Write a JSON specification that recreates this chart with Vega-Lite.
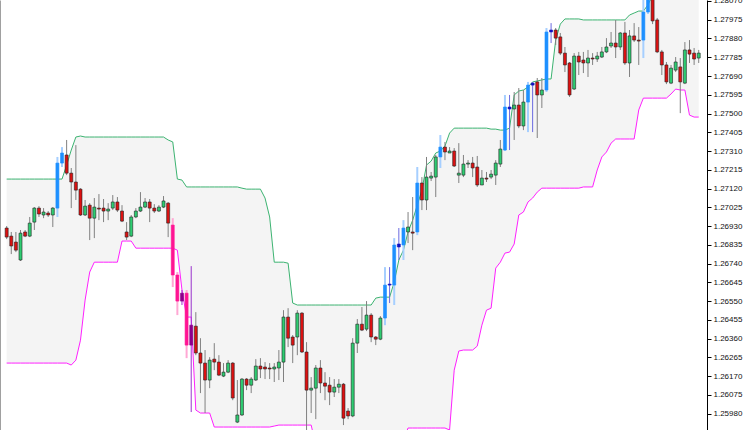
{
"$schema":"https://vega.github.io/schema/vega-lite/v6.json",
"width":707,"height":430,
"padding":{"left":0,"top":0,"right":43,"bottom":0},
"autosize":{"type":"none"},
"background":"white",
"config":{"view":{"stroke":null},"axis":{"labelFont":"Liberation Sans","labelFontSize":8,"labelColor":"#111"}},
"data":{"values":[
{"i":0,"cat":"bear","open":1.26920,"high":1.26930,"low":1.26864,"close":1.26874,"upper":1.27168,"lower":1.26236},
{"i":1,"cat":"bear","open":1.26879,"high":1.26900,"low":1.26788,"close":1.26829,"upper":1.27168,"lower":1.26236},
{"i":2,"cat":"bear","open":1.26849,"high":1.26900,"low":1.26798,"close":1.26808,"upper":1.27168,"lower":1.26236},
{"i":3,"cat":"bull","open":1.26758,"high":1.26910,"low":1.26753,"close":1.26894,"upper":1.27168,"lower":1.26236},
{"i":4,"cat":"bear","open":1.26900,"high":1.26910,"low":1.26874,"close":1.26879,"upper":1.27168,"lower":1.26236},
{"i":5,"cat":"bull","open":1.26879,"high":1.26976,"low":1.26874,"close":1.26945,"upper":1.27168,"lower":1.26236},
{"i":6,"cat":"bull","open":1.26950,"high":1.27026,"low":1.26910,"close":1.27021,"upper":1.27168,"lower":1.26236},
{"i":7,"cat":"bear","open":1.27021,"high":1.27031,"low":1.26976,"close":1.26991,"upper":1.27168,"lower":1.26236},
{"i":8,"cat":"bull","open":1.26986,"high":1.27021,"low":1.26970,"close":1.27001,"upper":1.27168,"lower":1.26236},
{"i":9,"cat":"bear","open":1.26996,"high":1.27006,"low":1.26976,"close":1.26986,"upper":1.27168,"lower":1.26236},
{"i":10,"cat":"bull","open":1.26986,"high":1.27026,"low":1.26925,"close":1.27021,"upper":1.27168,"lower":1.26236},
{"i":11,"cat":"upx","open":1.27021,"high":1.27280,"low":1.26976,"close":1.27249,"upper":1.27168,"lower":1.26236},
{"i":12,"cat":"upx","open":1.27249,"high":1.27330,"low":1.27229,"close":1.27300,"upper":1.27168,"lower":1.26236},
{"i":13,"cat":"bear","open":1.27290,"high":1.27366,"low":1.27188,"close":1.27198,"upper":1.27239,"lower":1.26236},
{"i":14,"cat":"bear","open":1.27198,"high":1.27224,"low":1.27021,"close":1.27153,"upper":1.27315,"lower":1.26226},
{"i":15,"cat":"bear","open":1.27153,"high":1.27340,"low":1.27062,"close":1.27112,"upper":1.27381,"lower":1.26251},
{"i":16,"cat":"bear","open":1.27117,"high":1.27122,"low":1.26981,"close":1.26986,"upper":1.27386,"lower":1.26352},
{"i":17,"cat":"bull","open":1.26986,"high":1.27062,"low":1.26981,"close":1.27031,"upper":1.27381,"lower":1.26555},
{"i":18,"cat":"bear","open":1.27036,"high":1.27046,"low":1.26859,"close":1.26970,"upper":1.27381,"lower":1.26697},
{"i":19,"cat":"bull","open":1.26970,"high":1.27072,"low":1.26869,"close":1.27026,"upper":1.27381,"lower":1.26747},
{"i":20,"cat":"bear","open":1.27021,"high":1.27092,"low":1.26960,"close":1.27016,"upper":1.27381,"lower":1.26747},
{"i":21,"cat":"bear","open":1.27021,"high":1.27067,"low":1.26950,"close":1.27006,"upper":1.27381,"lower":1.26747},
{"i":22,"cat":"bull","open":1.27006,"high":1.27046,"low":1.26960,"close":1.27016,"upper":1.27381,"lower":1.26747},
{"i":23,"cat":"bull","open":1.27021,"high":1.27087,"low":1.27011,"close":1.27052,"upper":1.27381,"lower":1.26747},
{"i":24,"cat":"bear","open":1.27052,"high":1.27077,"low":1.27001,"close":1.27011,"upper":1.27381,"lower":1.26747},
{"i":25,"cat":"bear","open":1.27006,"high":1.27036,"low":1.26950,"close":1.26955,"upper":1.27381,"lower":1.26854},
{"i":26,"cat":"bear","open":1.26900,"high":1.26950,"low":1.26859,"close":1.26874,"upper":1.27381,"lower":1.26854},
{"i":27,"cat":"bull","open":1.26879,"high":1.26986,"low":1.26874,"close":1.26976,"upper":1.27381,"lower":1.26854},
{"i":28,"cat":"bull","open":1.26976,"high":1.27021,"low":1.26970,"close":1.27006,"upper":1.27381,"lower":1.26818},
{"i":29,"cat":"bull","open":1.27006,"high":1.27102,"low":1.27001,"close":1.27026,"upper":1.27381,"lower":1.26818},
{"i":30,"cat":"bull","open":1.27026,"high":1.27072,"low":1.27021,"close":1.27052,"upper":1.27381,"lower":1.26818},
{"i":31,"cat":"bear","open":1.27052,"high":1.27067,"low":1.26950,"close":1.27021,"upper":1.27381,"lower":1.26818},
{"i":32,"cat":"bear","open":1.27021,"high":1.27041,"low":1.26996,"close":1.27006,"upper":1.27381,"lower":1.26818},
{"i":33,"cat":"bull","open":1.27006,"high":1.27036,"low":1.27001,"close":1.27026,"upper":1.27381,"lower":1.26818},
{"i":34,"cat":"bull","open":1.27026,"high":1.27082,"low":1.27021,"close":1.27057,"upper":1.27381,"lower":1.26818},
{"i":35,"cat":"bear","open":1.27046,"high":1.27052,"low":1.26874,"close":1.26945,"upper":1.27366,"lower":1.26818},
{"i":36,"cat":"dnx","open":1.26935,"high":1.26970,"low":1.26621,"close":1.26682,"upper":1.27356,"lower":1.26818},
{"i":37,"cat":"dnx","open":1.26682,"high":1.26697,"low":1.26479,"close":1.26550,"upper":1.27168,"lower":1.26808},
{"i":38,"cat":"pur","open":1.26590,"high":1.26606,"low":1.26530,"close":1.26550,"upper":1.27163,"lower":1.26606},
{"i":39,"cat":"dnx","open":1.26590,"high":1.26606,"low":1.26261,"close":1.26327,"upper":1.27128,"lower":1.26469},
{"i":40,"cat":"pur","open":1.26428,"high":1.26727,"low":1.25988,"close":1.26327,"upper":1.27128,"lower":1.26469},
{"i":41,"cat":"bear","open":1.26423,"high":1.26494,"low":1.26276,"close":1.26287,"upper":1.27128,"lower":1.25998},
{"i":42,"cat":"bear","open":1.26287,"high":1.26362,"low":1.26084,"close":1.26236,"upper":1.27128,"lower":1.25983},
{"i":43,"cat":"bear","open":1.26236,"high":1.26302,"low":1.25983,"close":1.26150,"upper":1.27128,"lower":1.25983},
{"i":44,"cat":"bull","open":1.26150,"high":1.26266,"low":1.26109,"close":1.26251,"upper":1.27128,"lower":1.25983},
{"i":45,"cat":"bear","open":1.26256,"high":1.26337,"low":1.26200,"close":1.26241,"upper":1.27128,"lower":1.25912},
{"i":46,"cat":"bear","open":1.26241,"high":1.26276,"low":1.26170,"close":1.26175,"upper":1.27128,"lower":1.25912},
{"i":47,"cat":"bull","open":1.26170,"high":1.26236,"low":1.26165,"close":1.26190,"upper":1.27128,"lower":1.25912},
{"i":48,"cat":"bull","open":1.26190,"high":1.26251,"low":1.26185,"close":1.26236,"upper":1.27128,"lower":1.25912},
{"i":49,"cat":"bear","open":1.26236,"high":1.26241,"low":1.26048,"close":1.26059,"upper":1.27128,"lower":1.25912},
{"i":50,"cat":"bull","open":1.25937,"high":1.26150,"low":1.25932,"close":1.25973,"upper":1.27128,"lower":1.25912},
{"i":51,"cat":"bull","open":1.25973,"high":1.26160,"low":1.25968,"close":1.26155,"upper":1.27122,"lower":1.25912},
{"i":52,"cat":"bear","open":1.26155,"high":1.26160,"low":1.26099,"close":1.26124,"upper":1.27117,"lower":1.25912},
{"i":53,"cat":"bull","open":1.26124,"high":1.26165,"low":1.26084,"close":1.26155,"upper":1.27117,"lower":1.25912},
{"i":54,"cat":"bull","open":1.26150,"high":1.26256,"low":1.26145,"close":1.26221,"upper":1.27117,"lower":1.25912},
{"i":55,"cat":"bear","open":1.26221,"high":1.26261,"low":1.26160,"close":1.26206,"upper":1.27117,"lower":1.25912},
{"i":56,"cat":"bear","open":1.26216,"high":1.26241,"low":1.26155,"close":1.26206,"upper":1.27072,"lower":1.25912},
{"i":57,"cat":"bear","open":1.26211,"high":1.26236,"low":1.26155,"close":1.26206,"upper":1.26976,"lower":1.25912},
{"i":58,"cat":"bull","open":1.26206,"high":1.26236,"low":1.26140,"close":1.26216,"upper":1.26747,"lower":1.25917},
{"i":59,"cat":"bull","open":1.26211,"high":1.26302,"low":1.26150,"close":1.26241,"upper":1.26747,"lower":1.25922},
{"i":60,"cat":"bull","open":1.26241,"high":1.26504,"low":1.26140,"close":1.26469,"upper":1.26747,"lower":1.25922},
{"i":61,"cat":"bear","open":1.26469,"high":1.26514,"low":1.26317,"close":1.26362,"upper":1.26742,"lower":1.25922},
{"i":62,"cat":"bear","open":1.26368,"high":1.26378,"low":1.26236,"close":1.26327,"upper":1.26540,"lower":1.25922},
{"i":63,"cat":"bull","open":1.26368,"high":1.26504,"low":1.26276,"close":1.26489,"upper":1.26530,"lower":1.25922},
{"i":64,"cat":"bear","open":1.26489,"high":1.26494,"low":1.26287,"close":1.26292,"upper":1.26530,"lower":1.25922},
{"i":65,"cat":"bear","open":1.26292,"high":1.26342,"low":1.25897,"close":1.26099,"upper":1.26530,"lower":1.25922},
{"i":66,"cat":"bull","open":1.26099,"high":1.26165,"low":1.25983,"close":1.26109,"upper":1.26530,"lower":1.25922},
{"i":67,"cat":"bull","open":1.26109,"high":1.26226,"low":1.25952,"close":1.26211,"upper":1.26530,"lower":1.25820},
{"i":68,"cat":"bear","open":1.26211,"high":1.26251,"low":1.26084,"close":1.26135,"upper":1.26530,"lower":1.25820},
{"i":69,"cat":"bear","open":1.26135,"high":1.26190,"low":1.26048,"close":1.26119,"upper":1.26530,"lower":1.25820},
{"i":70,"cat":"bear","open":1.26124,"high":1.26165,"low":1.26023,"close":1.26089,"upper":1.26530,"lower":1.25820},
{"i":71,"cat":"bull","open":1.26089,"high":1.26155,"low":1.26064,"close":1.26114,"upper":1.26530,"lower":1.25820},
{"i":72,"cat":"bull","open":1.26114,"high":1.26155,"low":1.26084,"close":1.26129,"upper":1.26530,"lower":1.25820},
{"i":73,"cat":"bear","open":1.26129,"high":1.26135,"low":1.25922,"close":1.25957,"upper":1.26530,"lower":1.25820},
{"i":74,"cat":"bear","open":1.25993,"high":1.26008,"low":1.25952,"close":1.25968,"upper":1.26530,"lower":1.25820},
{"i":75,"cat":"bull","open":1.25968,"high":1.26362,"low":1.25962,"close":1.26337,"upper":1.26530,"lower":1.25820},
{"i":76,"cat":"bull","open":1.26337,"high":1.26459,"low":1.26287,"close":1.26433,"upper":1.26530,"lower":1.25820},
{"i":77,"cat":"bear","open":1.26433,"high":1.26520,"low":1.26398,"close":1.26403,"upper":1.26530,"lower":1.25820},
{"i":78,"cat":"bull","open":1.26408,"high":1.26550,"low":1.26398,"close":1.26479,"upper":1.26530,"lower":1.25820},
{"i":79,"cat":"bear","open":1.26479,"high":1.26489,"low":1.26342,"close":1.26368,"upper":1.26530,"lower":1.25820},
{"i":80,"cat":"bear","open":1.26368,"high":1.26373,"low":1.26327,"close":1.26357,"upper":1.26565,"lower":1.25820},
{"i":81,"cat":"bull","open":1.26357,"high":1.26474,"low":1.26352,"close":1.26464,"upper":1.26570,"lower":1.25820},
{"i":82,"cat":"upx","open":1.26464,"high":1.26722,"low":1.26428,"close":1.26631,"upper":1.26570,"lower":1.25820},
{"i":83,"cat":"nav","open":1.26631,"high":1.26722,"low":1.26540,"close":1.26636,"upper":1.26570,"lower":1.25820},
{"i":84,"cat":"upx","open":1.26631,"high":1.26869,"low":1.26530,"close":1.26834,"upper":1.26646,"lower":1.25820},
{"i":85,"cat":"nav","open":1.26824,"high":1.26920,"low":1.26758,"close":1.26839,"upper":1.26758,"lower":1.25820},
{"i":86,"cat":"upx","open":1.26834,"high":1.26960,"low":1.26758,"close":1.26920,"upper":1.26808,"lower":1.25846},
{"i":87,"cat":"bull","open":1.26900,"high":1.27001,"low":1.26844,"close":1.26925,"upper":1.26900,"lower":1.25907},
{"i":88,"cat":"bear","open":1.26900,"high":1.27077,"low":1.26808,"close":1.26894,"upper":1.26960,"lower":1.25907},
{"i":89,"cat":"upx","open":1.26900,"high":1.27229,"low":1.26884,"close":1.27148,"upper":1.27036,"lower":1.25907},
{"i":90,"cat":"bear","open":1.27148,"high":1.27178,"low":1.27011,"close":1.27062,"upper":1.27112,"lower":1.25907},
{"i":91,"cat":"bull","open":1.27062,"high":1.27280,"low":1.27011,"close":1.27178,"upper":1.27239,"lower":1.25907},
{"i":92,"cat":"bull","open":1.27173,"high":1.27204,"low":1.27158,"close":1.27183,"upper":1.27259,"lower":1.25907},
{"i":93,"cat":"bull","open":1.27178,"high":1.27290,"low":1.27077,"close":1.27280,"upper":1.27300,"lower":1.25907},
{"i":94,"cat":"upx","open":1.27280,"high":1.27391,"low":1.27224,"close":1.27330,"upper":1.27310,"lower":1.25907},
{"i":95,"cat":"bear","open":1.27330,"high":1.27356,"low":1.27264,"close":1.27305,"upper":1.27335,"lower":1.25907},
{"i":96,"cat":"bull","open":1.27300,"high":1.27330,"low":1.27300,"close":1.27310,"upper":1.27401,"lower":1.25897},
{"i":97,"cat":"bear","open":1.27310,"high":1.27325,"low":1.27229,"close":1.27234,"upper":1.27426,"lower":1.26200},
{"i":98,"cat":"bull","open":1.27188,"high":1.27350,"low":1.27148,"close":1.27198,"upper":1.27426,"lower":1.26297},
{"i":99,"cat":"bull","open":1.27188,"high":1.27290,"low":1.27178,"close":1.27244,"upper":1.27426,"lower":1.26302},
{"i":100,"cat":"bull","open":1.27244,"high":1.27264,"low":1.27224,"close":1.27249,"upper":1.27426,"lower":1.26302},
{"i":101,"cat":"bear","open":1.27249,"high":1.27280,"low":1.27178,"close":1.27224,"upper":1.27426,"lower":1.26302},
{"i":102,"cat":"bear","open":1.27229,"high":1.27285,"low":1.27128,"close":1.27138,"upper":1.27426,"lower":1.26322},
{"i":103,"cat":"bull","open":1.27138,"high":1.27214,"low":1.27138,"close":1.27173,"upper":1.27426,"lower":1.26428},
{"i":104,"cat":"bear","open":1.27173,"high":1.27204,"low":1.27153,"close":1.27168,"upper":1.27426,"lower":1.26504},
{"i":105,"cat":"bull","open":1.27178,"high":1.27214,"low":1.27168,"close":1.27193,"upper":1.27421,"lower":1.26514},
{"i":106,"cat":"bull","open":1.27188,"high":1.27264,"low":1.27138,"close":1.27249,"upper":1.27421,"lower":1.26717},
{"i":107,"cat":"bull","open":1.27244,"high":1.27366,"low":1.27229,"close":1.27320,"upper":1.27416,"lower":1.26747},
{"i":108,"cat":"upx","open":1.27315,"high":1.27594,"low":1.27310,"close":1.27533,"upper":1.27416,"lower":1.26793},
{"i":109,"cat":"nav","open":1.27523,"high":1.27594,"low":1.27315,"close":1.27533,"upper":1.27426,"lower":1.26798},
{"i":110,"cat":"bull","open":1.27523,"high":1.27609,"low":1.27366,"close":1.27543,"upper":1.27594,"lower":1.26839},
{"i":111,"cat":"bear","open":1.27543,"high":1.27629,"low":1.27426,"close":1.27437,"upper":1.27614,"lower":1.26986},
{"i":112,"cat":"bull","open":1.27437,"high":1.27619,"low":1.27416,"close":1.27558,"upper":1.27619,"lower":1.27001},
{"i":113,"cat":"upx","open":1.27558,"high":1.27660,"low":1.27406,"close":1.27644,"upper":1.27634,"lower":1.27052},
{"i":114,"cat":"nav","open":1.27644,"high":1.27660,"low":1.27406,"close":1.27654,"upper":1.27660,"lower":1.27072},
{"i":115,"cat":"bear","open":1.27660,"high":1.27680,"low":1.27376,"close":1.27594,"upper":1.27665,"lower":1.27102},
{"i":116,"cat":"bull","open":1.27594,"high":1.27680,"low":1.27528,"close":1.27619,"upper":1.27670,"lower":1.27122},
{"i":117,"cat":"upx","open":1.27619,"high":1.27933,"low":1.27609,"close":1.27913,"upper":1.27675,"lower":1.27122},
{"i":118,"cat":"nav","open":1.27913,"high":1.27958,"low":1.27857,"close":1.27923,"upper":1.27675,"lower":1.27122},
{"i":119,"cat":"bear","open":1.27923,"high":1.27933,"low":1.27847,"close":1.27882,"upper":1.27872,"lower":1.27122},
{"i":120,"cat":"bear","open":1.27888,"high":1.27908,"low":1.27796,"close":1.27806,"upper":1.27953,"lower":1.27122},
{"i":121,"cat":"bear","open":1.27806,"high":1.27837,"low":1.27710,"close":1.27746,"upper":1.27979,"lower":1.27122},
{"i":122,"cat":"bear","open":1.27756,"high":1.27761,"low":1.27584,"close":1.27594,"upper":1.27979,"lower":1.27122},
{"i":123,"cat":"bull","open":1.27624,"high":1.27806,"low":1.27619,"close":1.27791,"upper":1.27979,"lower":1.27122},
{"i":124,"cat":"bear","open":1.27791,"high":1.27812,"low":1.27695,"close":1.27761,"upper":1.27979,"lower":1.27122},
{"i":125,"cat":"bear","open":1.27771,"high":1.27812,"low":1.27705,"close":1.27756,"upper":1.27974,"lower":1.27128},
{"i":126,"cat":"bull","open":1.27756,"high":1.27822,"low":1.27685,"close":1.27781,"upper":1.27974,"lower":1.27128},
{"i":127,"cat":"bear","open":1.27781,"high":1.27806,"low":1.27746,"close":1.27776,"upper":1.27974,"lower":1.27128},
{"i":128,"cat":"bull","open":1.27776,"high":1.27812,"low":1.27761,"close":1.27791,"upper":1.27974,"lower":1.27214},
{"i":129,"cat":"bull","open":1.27786,"high":1.27837,"low":1.27781,"close":1.27812,"upper":1.27974,"lower":1.27280},
{"i":130,"cat":"bull","open":1.27812,"high":1.27882,"low":1.27806,"close":1.27837,"upper":1.27974,"lower":1.27305},
{"i":131,"cat":"bull","open":1.27842,"high":1.27913,"low":1.27832,"close":1.27857,"upper":1.27974,"lower":1.27350},
{"i":132,"cat":"bear","open":1.27857,"high":1.27974,"low":1.27781,"close":1.27837,"upper":1.27974,"lower":1.27371},
{"i":133,"cat":"bull","open":1.27837,"high":1.27913,"low":1.27822,"close":1.27908,"upper":1.27974,"lower":1.27371},
{"i":134,"cat":"bear","open":1.27908,"high":1.27964,"low":1.27746,"close":1.27756,"upper":1.27974,"lower":1.27371},
{"i":135,"cat":"bull","open":1.27756,"high":1.27923,"low":1.27685,"close":1.27893,"upper":1.27999,"lower":1.27371},
{"i":136,"cat":"bear","open":1.27893,"high":1.27958,"low":1.27862,"close":1.27872,"upper":1.28009,"lower":1.27371},
{"i":137,"cat":"bear","open":1.27872,"high":1.27938,"low":1.27746,"close":1.27867,"upper":1.28019,"lower":1.27518},
{"i":138,"cat":"upx","open":1.27872,"high":1.28075,"low":1.27781,"close":1.28014,"upper":1.28019,"lower":1.27578},
{"i":139,"cat":"upx","open":1.28014,"high":1.28105,"low":1.28004,"close":1.28090,"upper":1.28050,"lower":1.27578},
{"i":140,"cat":"bear","open":1.28080,"high":1.28100,"low":1.27953,"close":1.27969,"upper":1.28100,"lower":1.27578},
{"i":141,"cat":"bear","open":1.27974,"high":1.27984,"low":1.27806,"close":1.27812,"upper":1.28116,"lower":1.27578},
{"i":142,"cat":"bear","open":1.27812,"high":1.27822,"low":1.27695,"close":1.27746,"upper":1.28116,"lower":1.27578},
{"i":143,"cat":"bear","open":1.27746,"high":1.27761,"low":1.27649,"close":1.27660,"upper":1.28116,"lower":1.27578},
{"i":144,"cat":"bull","open":1.27654,"high":1.27746,"low":1.27649,"close":1.27730,"upper":1.28116,"lower":1.27599},
{"i":145,"cat":"bull","open":1.27720,"high":1.27786,"low":1.27710,"close":1.27761,"upper":1.28116,"lower":1.27624},
{"i":146,"cat":"bear","open":1.27736,"high":1.27781,"low":1.27502,"close":1.27660,"upper":1.28116,"lower":1.27619},
{"i":147,"cat":"bull","open":1.27654,"high":1.27862,"low":1.27649,"close":1.27822,"upper":1.28116,"lower":1.27619},
{"i":148,"cat":"bear","open":1.27822,"high":1.27872,"low":1.27756,"close":1.27801,"upper":1.28116,"lower":1.27492},
{"i":149,"cat":"bear","open":1.27806,"high":1.27832,"low":1.27746,"close":1.27776,"upper":1.28116,"lower":1.27482},
{"i":150,"cat":"bull","open":1.27781,"high":1.27822,"low":1.27756,"close":1.27806,"upper":1.28116,"lower":1.27482}
]},
"encoding":{"x":{"field":"i","type":"quantitative","scale":{"domain":[-0.36,150.71],"nice":false,"zero":false},"axis":null}},
"layer":[
{"mark":{"type":"area","color":"#f4f4f4","clip":true},
 "encoding":{"y":{"field":"lower","type":"quantitative","scale":{"domain":[1.25897,1.28075],"nice":false,"zero":false},"axis":{"orient":"left","labels":false,"ticks":false,"grid":false,"title":null,"domainColor":"#a0a0a0","domainWidth":1}},"y2":{"field":"upper"}}},
{"mark":{"type":"line","color":"#3cb371","strokeWidth":1,"clip":true},
 "encoding":{"y":{"field":"upper","type":"quantitative","axis":null}}},
{"mark":{"type":"line","color":"#ff20ff","strokeWidth":1,"clip":true},
 "encoding":{"y":{"field":"lower","type":"quantitative","axis":null}}},
{"transform":[{"filter":"datum.cat=='upx'||datum.cat=='dnx'"}],
 "mark":{"type":"bar","size":2,"clip":true},
 "encoding":{"y":{"field":"low","type":"quantitative","axis":null},"y2":{"field":"high"},
  "color":{"field":"cat","type":"nominal","scale":{"domain":["upx","dnx"],"range":["#a6cfff","#ffa8d4"]},"legend":null}}},
{"transform":[{"filter":"datum.cat!='upx'&&datum.cat!='dnx'"}],
 "mark":{"type":"rule","strokeWidth":1,"clip":true},
 "encoding":{"y":{"field":"low","type":"quantitative","axis":null},"y2":{"field":"high"},
  "stroke":{"field":"cat","type":"nominal","scale":{"domain":["bull","bear","pur","nav"],"range":["#808080","#808080","#9932cc","#6a6ae0"]},"legend":null}}},
{"mark":{"type":"bar","size":3,"strokeWidth":0.6,"clip":true},
 "encoding":{"y":{"field":"open","type":"quantitative","scale":{"domain":[1.25897,1.28075],"nice":false,"zero":false},
   "axis":{"orient":"right","values":[1.2807,1.27975,1.2788,1.27785,1.2769,1.27595,1.275,1.27405,1.2731,1.27215,1.2712,1.27025,1.2693,1.26835,1.2674,1.26645,1.2655,1.26455,1.2636,1.26265,1.2617,1.26075,1.2598,1.25885],
   "format":".5f","title":null,"grid":false,"domainColor":"#000","tickColor":"#000","tickSize":4,"labelPadding":2,"labelOverlap":false,"labelFlush":false,"labelBound":false}},
  "y2":{"field":"close"},
  "fill":{"field":"cat","type":"nominal","scale":{"domain":["bull","bear","upx","dnx","pur","nav"],"range":["#2ecc71","#dd1111","#1e90ff","#ff1493","#8b008b","#1010c0"]},"legend":null},
  "stroke":{"field":"cat","type":"nominal","scale":{"domain":["bull","bear","upx","dnx","pur","nav"],"range":["#222222","#222222","#1e90ff","#ff1493","#8b008b","#1010c0"]},"legend":null}}}
],
"resolve":{"scale":{"color":"independent","fill":"independent","stroke":"independent"},"axis":{"y":"independent"}}
}
